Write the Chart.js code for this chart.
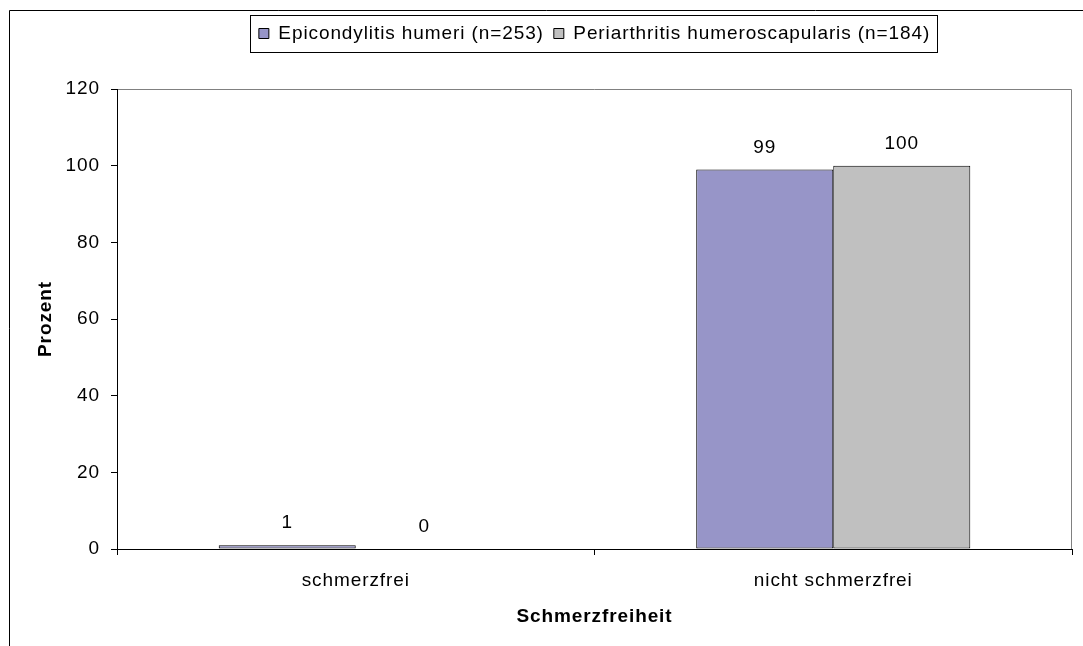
<!DOCTYPE html>
<html>
<head>
<meta charset="utf-8">
<script src="https://cdn.jsdelivr.net/npm/chart.js@4.4.1/dist/chart.umd.min.js"></script>
<style>
  html, body { margin: 0; padding: 0; background: #fff; }
  #wrap { width: 1083px; height: 646px; position: relative; }
</style>
</head>
<body>
<div id="wrap"><canvas id="c" width="1083" height="646"></canvas></div>
<script>
const categories = ['schmerzfrei', 'nicht schmerzfrei'];
const seriesNames = ['Epicondylitis humeri (n=253)', 'Periarthritis humeroscapularis (n=184)'];
const epicondylitis = [1, 99];
const periarthritis = [0, 100];
const yTicks = [0, 20, 40, 60, 80, 100, 120];
const xTitle = 'Schmerzfreiheit';
const yTitle = 'Prozent';

const FONT = "'Liberation Sans', Arial, sans-serif";
const SPACING = '0.9px';
const PLOT_TOP = 89;

const spacingPlugin = {
  id: 'spacing',
  beforeLayout(chart) {
    chart.ctx.letterSpacing = SPACING;
    const lg = chart.legend;
    if (lg && !lg._patched) {
      const orig = lg.fit;
      lg.fit = function () {
        orig.call(this);
        this.height = PLOT_TOP - 14;
      };
      lg._patched = true;
    }
  },
  beforeDraw(chart) { chart.ctx.letterSpacing = SPACING; }
};

const framePlugin = {
  id: 'frame',
  beforeDraw(chart) {
    const ctx = chart.ctx;
    ctx.save();
    ctx.fillStyle = '#fff';
    ctx.fillRect(0, 0, chart.width, chart.height);
    ctx.strokeStyle = '#000';
    ctx.lineWidth = 1;
    ctx.beginPath();
    ctx.moveTo(9.5, chart.height + 2);
    ctx.lineTo(9.5, 10.5);
    ctx.lineTo(chart.width + 2, 10.5);
    ctx.stroke();
    const a = chart.chartArea;
    ctx.strokeStyle = '#808080';
    ctx.beginPath();
    ctx.moveTo(a.left, Math.round(a.top) + 0.5);
    ctx.lineTo(Math.round(a.right) - 0.5, Math.round(a.top) + 0.5);
    ctx.lineTo(Math.round(a.right) - 0.5, a.bottom);
    ctx.stroke();
    ctx.restore();
  },
  afterDraw(chart) {
    const lg = chart.legend;
    if (!lg || !lg.legendHitBoxes || !lg.legendHitBoxes.length) return;
    const boxes = lg.legendHitBoxes;
    let l = Infinity, r = -Infinity, t = Infinity;
    boxes.forEach(h => {
      l = Math.min(l, h.left); r = Math.max(r, h.left + h.width);
      t = Math.min(t, h.top);
    });
    const ctx = chart.ctx;
    ctx.save();
    ctx.strokeStyle = '#000';
    ctx.lineWidth = 1;
    ctx.strokeRect(Math.round(l - 9) + 0.5, 15.5, Math.round(r - l + 16), 37);
    ctx.restore();
  }
};

const valueLabels = {
  id: 'valueLabels',
  afterDatasetsDraw(chart) {
    const ctx = chart.ctx;
    ctx.save();
    ctx.font = '19px ' + FONT;
    ctx.fillStyle = '#000';
    ctx.textAlign = 'center';
    ctx.textBaseline = 'alphabetic';
    chart.data.datasets.forEach((ds, i) => {
      const meta = chart.getDatasetMeta(i);
      meta.data.forEach((el, j) => {
        ctx.fillText(String(ds.data[j]), el.x, el.y - 17);
      });
    });
    ctx.restore();
  }
};

new Chart(document.getElementById('c'), {
  type: 'bar',
  data: {
    labels: categories,
    datasets: [
      { label: seriesNames[0], data: epicondylitis, backgroundColor: '#9795C8', borderColor: '#000', borderWidth: 1, borderSkipped: false },
      { label: seriesNames[1], data: periarthritis, backgroundColor: '#C0C0C0', borderColor: '#000', borderWidth: 1, borderSkipped: false }
    ]
  },
  options: {
    responsive: false,
    animation: false,
    devicePixelRatio: 1,
    layout: { padding: { left: 0, right: 11, top: 14, bottom: 0 } },
    datasets: { bar: { categoryPercentage: 0.574, barPercentage: 1.0 } },
    plugins: {
      legend: {
        position: 'top',
        align: 'center',
        fullSize: false,
        labels: {
          boxWidth: 10,
          boxHeight: 10,
          padding: 10,
          color: '#000',
          font: { family: FONT, size: 19 }
        }
      },
      tooltip: { enabled: false }
    },
    scales: {
      x: {
        type: 'category',
        afterFit(s) { s.height = 97; },
        grid: { offset: true, drawOnChartArea: false, drawTicks: true, tickLength: 6, color: '#000' },
        border: { color: '#000', width: 1 },
        ticks: { color: '#000', padding: 14, font: { family: FONT, size: 19 } },
        title: { display: true, text: xTitle, color: '#000', padding: { top: 0, bottom: 18 }, font: { family: FONT, size: 19, weight: 'bold' } }
      },
      y: {
        min: 0, max: 120,
        afterFit(s) { s.width = 117; },
        afterBuildTicks(s) { s.ticks = yTicks.map(v => ({ value: v })); },
        grid: { drawOnChartArea: false, drawTicks: true, tickLength: 6, color: '#000' },
        border: { color: '#000', width: 1 },
        ticks: { color: '#000', padding: 11, font: { family: FONT, size: 19 } },
        title: { display: true, text: yTitle, color: '#000', padding: { top: 34, bottom: 0 }, font: { family: FONT, size: 19, weight: 'bold' } }
      }
    }
  },
  plugins: [spacingPlugin, framePlugin, valueLabels]
});
</script>
</body>
</html>
